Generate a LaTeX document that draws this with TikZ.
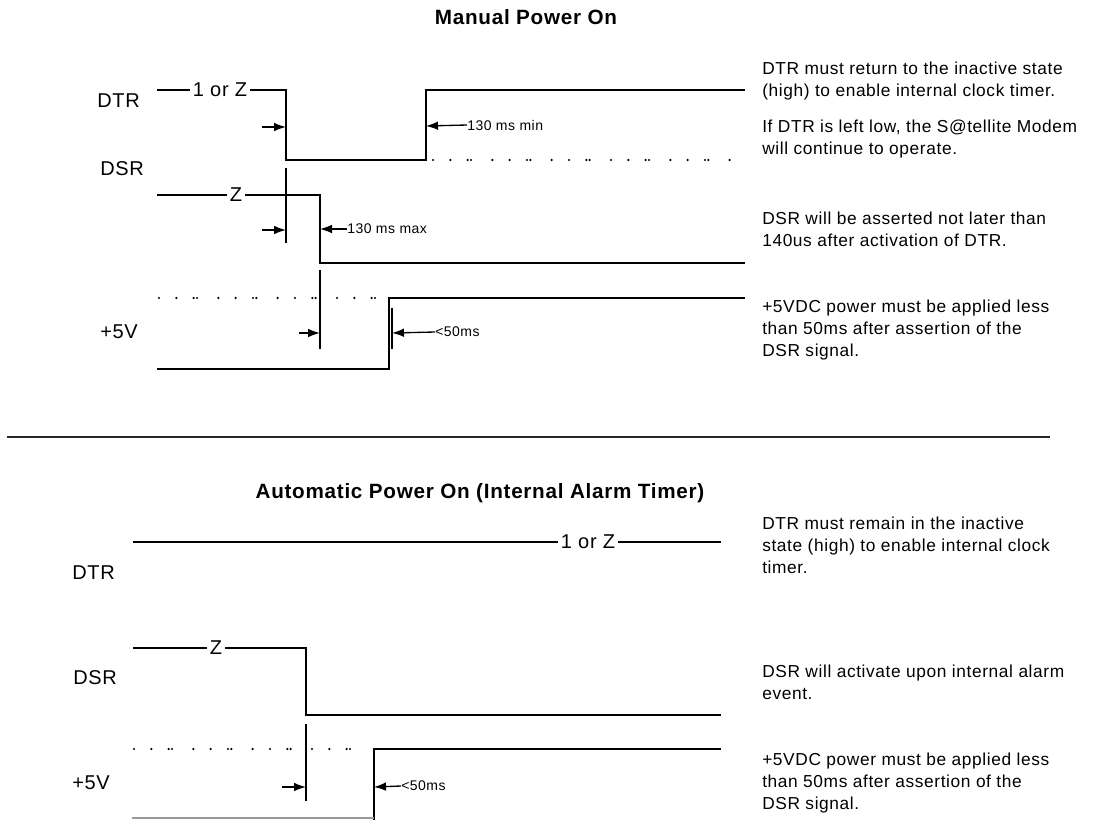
\documentclass[tikz,border=0pt]{standalone}
\usepackage{fontspec}
\setmainfont{Liberation Sans}[LetterSpace=3.5]
\usetikzlibrary{arrows.meta}
\begin{document}
\begin{tikzpicture}[x=0.75pt,y=-0.75pt,
  sig/.style={line width=1.7pt,line join=miter},
  tick/.style={line width=1pt},
  dots/.style={line width=1.8pt,line cap=round,dash pattern=on 0pt off 13pt on 0pt off 13pt on 0pt off 2.5pt on 0pt off 16pt},
  arr/.style={line width=1pt,-{Latex[length=9pt,width=6.5pt]}},
  siglbl/.style={font=\fontsize{15}{18}\selectfont,inner sep=0pt,anchor=west},
  lvl/.style={font=\fontsize{15}{18}\selectfont,fill=white,inner xsep=2pt,inner ysep=0pt},
  small/.style={font=\fontsize{10.5}{12}\selectfont,inner sep=0pt,anchor=west},
  note/.style={font=\fontsize{13}{16.5}\selectfont,align=left,inner sep=0pt,anchor=west},
  ttl/.style={font=\bfseries\fontsize{15.5}{18}\selectfont,inner sep=0pt}
]
\useasboundingbox (0,0) rectangle (1094,820);

% ---------------- Manual Power On ----------------
\node[ttl] (t1) at (526,17) {Manual Power On};

\node[siglbl] (lDTR1) at (97,101) {DTR};
\node[siglbl] (lDSR1) at (100,169) {DSR};
\node[siglbl] (l5V1) at (100,332) {+5V};

% DTR
\coordinate (a0) at (157,90);
\coordinate (a1) at (286,90);
\coordinate (a2) at (286,160);
\coordinate (a3) at (426,160);
\coordinate (a4) at (426,90);
\coordinate (a5) at (745,90);
\draw[sig] (a0) -- (a1) -- (a2) -- (a3) -- (a4) -- (a5);
\node[lvl] (z1) at (220,90) {1 or Z};
\coordinate (ad0) at (433,160);
\coordinate (ad1) at (745,160);
\draw[dots] (ad0) -- (ad1);

% DSR
\coordinate (b0) at (157,195);
\coordinate (b1) at (320,195);
\coordinate (b2) at (320,263);
\coordinate (b3) at (745,263);
\draw[sig] (b0) -- (b1) -- (b2) -- (b3);
\node[lvl] (z2) at (236,195) {Z};

% markers
\coordinate (m1a) at (286,168);
\coordinate (m1b) at (286,243);
\draw[tick] (m1a) -- (m1b);
\coordinate (m2a) at (320,270);
\coordinate (m2b) at (320,349);
\draw[tick] (m2a) -- (m2b);

% arrows DTR
\coordinate (p1) at (262,127);
\coordinate (p1e) at (286,127);
\draw[arr] (p1) -- (p1e);
\node[small] (s1) at (467,125) {130 ms min};
\coordinate (p2e) at (426,126);
\draw[arr] (s1.west) -- (p2e);

% arrows DSR
\coordinate (p3) at (262,230);
\coordinate (p3e) at (286,230);
\draw[arr] (p3) -- (p3e);
\node[small] (s2) at (347,229) {130 ms max};
\coordinate (p4e) at (320,229);
\draw[arr] (s2.west) -- (p4e);

% +5V
\coordinate (c0) at (159,298);
\coordinate (c1) at (387,298);
\draw[dots] (c0) -- (c1);
\coordinate (d0) at (157,369);
\coordinate (d1) at (389,369);
\coordinate (d2) at (389,298);
\coordinate (d3) at (745,298);
\draw[sig] (d0) -- (d1) -- (d2) -- (d3);
\coordinate (m3a) at (392,308);
\coordinate (m3b) at (392,349);
\draw[tick] (m3a) -- (m3b);
\coordinate (p5) at (299,333);
\coordinate (p5e) at (320,333);
\draw[arr] (p5) -- (p5e);
\node[small] (s3) at (435,332) {<50ms};
\coordinate (p6e) at (392,333);
\draw[arr] (s3.west) -- (p6e);

% notes
\node[note] (n1) at (762,81) {DTR must return to the inactive state\\(high) to enable internal clock timer.};
\node[note] (n2) at (762,139) {If DTR is left low, the S@tellite Modem\\will continue to operate.};
\node[note] (n3) at (762,229) {DSR will be asserted not later than\\140us after activation of DTR.};
\node[note] (n4) at (762,330) {+5VDC power must be applied less\\than 50ms after assertion of the\\DSR signal.};

% separator
\coordinate (sepA) at (7,437);
\coordinate (sepB) at (1050,437);
\draw[line width=1.8pt,black!85] (sepA) -- (sepB);

% ---------------- Automatic Power On ----------------
\node[ttl] (t2) at (480,493) {Automatic Power On (Internal Alarm Timer)};

\node[siglbl] (lDTR2) at (72,573) {DTR};
\node[siglbl] (lDSR2) at (73,678) {DSR};
\node[siglbl] (l5V2) at (72,783) {+5V};

% DTR
\coordinate (e0) at (133,542);
\coordinate (e1) at (721,542);
\draw[sig] (e0) -- (e1);
\node[lvl] (z3) at (588,542) {1 or Z};

% DSR
\coordinate (f0) at (133,648);
\coordinate (f1) at (306,648);
\coordinate (f2) at (306,715);
\coordinate (f3) at (721,715);
\draw[sig] (f0) -- (f1) -- (f2) -- (f3);
\node[lvl] (z4) at (216,648) {Z};

\coordinate (m4a) at (306,724);
\coordinate (m4b) at (306,801);
\draw[tick] (m4a) -- (m4b);

% +5V
\coordinate (g0) at (134,749);
\coordinate (g1) at (359,749);
\draw[dots] (g0) -- (g1);
\coordinate (h0) at (374,820);
\coordinate (h1) at (374,749);
\coordinate (h2) at (721,749);
\draw[sig] (h0) -- (h1) -- (h2);
\coordinate (k0) at (132,818);
\coordinate (k1) at (374,818);
\draw[line width=0.8pt,black!40] (k0) -- (k1);
\coordinate (p7) at (282,787);
\coordinate (p7e) at (306,787);
\draw[arr] (p7) -- (p7e);
\node[small] (s4) at (401,786) {<50ms};
\coordinate (p8e) at (374,787);
\draw[arr] (s4.west) -- (p8e);

% notes
\node[note] (n5) at (762,545) {DTR must remain in the inactive\\state (high) to enable internal clock\\timer.};
\node[note] (n6) at (762,682) {DSR will activate upon internal alarm\\event.};
\node[note] (n7) at (762,783) {+5VDC power must be applied less\\than 50ms after assertion of the\\DSR signal.};
\end{tikzpicture}
\end{document}
